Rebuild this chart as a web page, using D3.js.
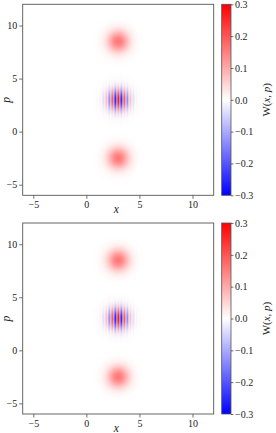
<!DOCTYPE html>
<html>
<head>
<meta charset="utf-8">
<script src="https://d3js.org/d3.v7.min.js"></script>
<style>
body { margin: 0; background: #fff; }
svg text { font-family: "Liberation Serif", "DejaVu Serif", serif; }
</style>
</head>
<body>
<svg id="fig" width="276" height="433"></svg>
<script>
// cat state: two coherent blobs plus interference term
var blobX = [3, 3];
var blobP = [8.5, -2.5];
var panels = ["top", "bottom"];
var xTicks = [-5, 0, 5, 10];
var pTicks = [-5, 0, 5, 10];
var cbTicks = [-0.3, -0.2, -0.1, 0.0, 0.1, 0.2, 0.3];
var domainX = [-6, 12];
var domainP = [-6, 12];
var cLim = [-0.3, 0.3];

var svg = d3.select("#fig");
var left = 22.7, size = 191, tops = [4.3, 223];
var cbX = 221.7, cbW = 9.3;
var serif = "'Liberation Serif', 'DejaVu Serif', serif";

var color = d3.scaleLinear().domain([cLim[0], 0, cLim[1]])
	.range(["#0000ff", "#ffffff", "#ff0000"]).clamp(true);

function wigner(x, p) {
	var g1 = Math.exp(-(x - blobX[0]) * (x - blobX[0]) - (p - blobP[0]) * (p - blobP[0]));
	var g2 = Math.exp(-(x - blobX[1]) * (x - blobX[1]) - (p - blobP[1]) * (p - blobP[1]));
	var xc = (blobX[0] + blobX[1]) / 2, pc = (blobP[0] + blobP[1]) / 2;
	var dp = blobP[0] - blobP[1];
	var gi = Math.exp(-(x - xc) * (x - xc) - (p - pc) * (p - pc)) * Math.cos(dp * (x - xc));
	return 0.5 * (g1 + g2 + 2 * gi) / Math.PI;
}

// render the field to a canvas once, reuse for both panels
var n = 382;
var xs = d3.scaleLinear().domain([0, n]).range(domainX);
var ps = d3.scaleLinear().domain([0, n]).range([domainP[1], domainP[0]]);
var cv = document.createElement("canvas");
cv.width = n; cv.height = n;
var ctx = cv.getContext("2d");
var img = ctx.createImageData(n, n);
for (var j = 0; j < n; j++) {
	for (var i = 0; i < n; i++) {
		var c = d3.rgb(color(wigner(xs(i + 0.5), ps(j + 0.5))));
		var k = 4 * (j * n + i);
		img.data[k] = c.r; img.data[k + 1] = c.g; img.data[k + 2] = c.b; img.data[k + 3] = 255;
	}
}
ctx.putImageData(img, 0, 0);
var url = cv.toDataURL();

// colorbar gradient
var cb = document.createElement("canvas");
cb.width = 1; cb.height = 200;
var cctx = cb.getContext("2d");
for (var m = 0; m < 200; m++) {
	cctx.fillStyle = color(cLim[1] - (m + 0.5) / 200 * (cLim[1] - cLim[0]));
	cctx.fillRect(0, m, 1, 1);
}
var cbUrl = cb.toDataURL();

var fmtMinus = function (s) { return s.replace("-", "\u2212"); };

function styleAxis(g) {
	g.attr("font-family", serif);
	g.select(".domain").remove();
	g.selectAll("line").attr("stroke", "#333").attr("stroke-width", 0.7);
	g.selectAll("text").attr("font-size", 10).attr("fill", "#222").attr("font-family", serif);
}

panels.forEach(function (name, idx) {
	var top = tops[idx];
	var x = d3.scaleLinear().domain(domainX).range([left, left + size]);
	var y = d3.scaleLinear().domain(domainP).range([top + size, top]);

	svg.append("image").attr("href", url)
		.attr("x", left).attr("y", top).attr("width", size).attr("height", size)
		.attr("preserveAspectRatio", "none");

	var ax = svg.append("g").attr("transform", "translate(0," + (top + size) + ")")
		.call(d3.axisBottom(x).tickValues(xTicks).tickSize(3.5).tickPadding(2)
			.tickFormat(function (d) { return fmtMinus(String(d)); }));
	var ay = svg.append("g").attr("transform", "translate(" + left + ",0)")
		.call(d3.axisLeft(y).tickValues(pTicks).tickSize(3.5).tickPadding(2)
			.tickFormat(function (d) { return fmtMinus(String(d)); }));
	styleAxis(ax);
	styleAxis(ay);

	svg.append("rect").attr("x", left).attr("y", top).attr("width", size).attr("height", size)
		.attr("fill", "none").attr("stroke", "#555").attr("stroke-width", 0.9);

	svg.append("text").attr("x", x(3) - 2).attr("y", top + size + 17.5)
		.attr("text-anchor", "middle").attr("font-size", 11.5).attr("font-style", "italic")
		.attr("font-family", serif).attr("fill", "#222").text("x");
	svg.append("text")
		.attr("transform", "translate(10," + y(3) + ") rotate(-90)")
		.attr("text-anchor", "middle").attr("font-size", 11.5).attr("font-style", "italic")
		.attr("font-family", serif).attr("fill", "#222").text("p");

	// colorbar
	var cy = d3.scaleLinear().domain(cLim).range([top + size, top]);
	svg.append("image").attr("href", cbUrl)
		.attr("x", cbX).attr("y", top).attr("width", cbW).attr("height", size)
		.attr("preserveAspectRatio", "none");
	svg.append("rect").attr("x", cbX).attr("y", top).attr("width", cbW).attr("height", size)
		.attr("fill", "none").attr("stroke", "#555").attr("stroke-width", 0.8);
	var ac = svg.append("g").attr("transform", "translate(" + (cbX + cbW) + ",0)")
		.call(d3.axisRight(cy).tickValues(cbTicks).tickSize(2.5).tickPadding(1.5)
			.tickFormat(function (d) { return fmtMinus(d3.format(".1f")(d)); }));
	styleAxis(ac);

	var lab = svg.append("text")
		.attr("transform", "translate(270," + cy(0) + ") rotate(-90)")
		.attr("text-anchor", "middle").attr("font-size", 11).attr("font-family", serif)
		.attr("fill", "#222");
	lab.append("tspan").text("W(");
	lab.append("tspan").attr("font-style", "italic").text("x");
	lab.append("tspan").text(", ");
	lab.append("tspan").attr("font-style", "italic").text("p");
	lab.append("tspan").text(")");
});
</script>
</body>
</html>
